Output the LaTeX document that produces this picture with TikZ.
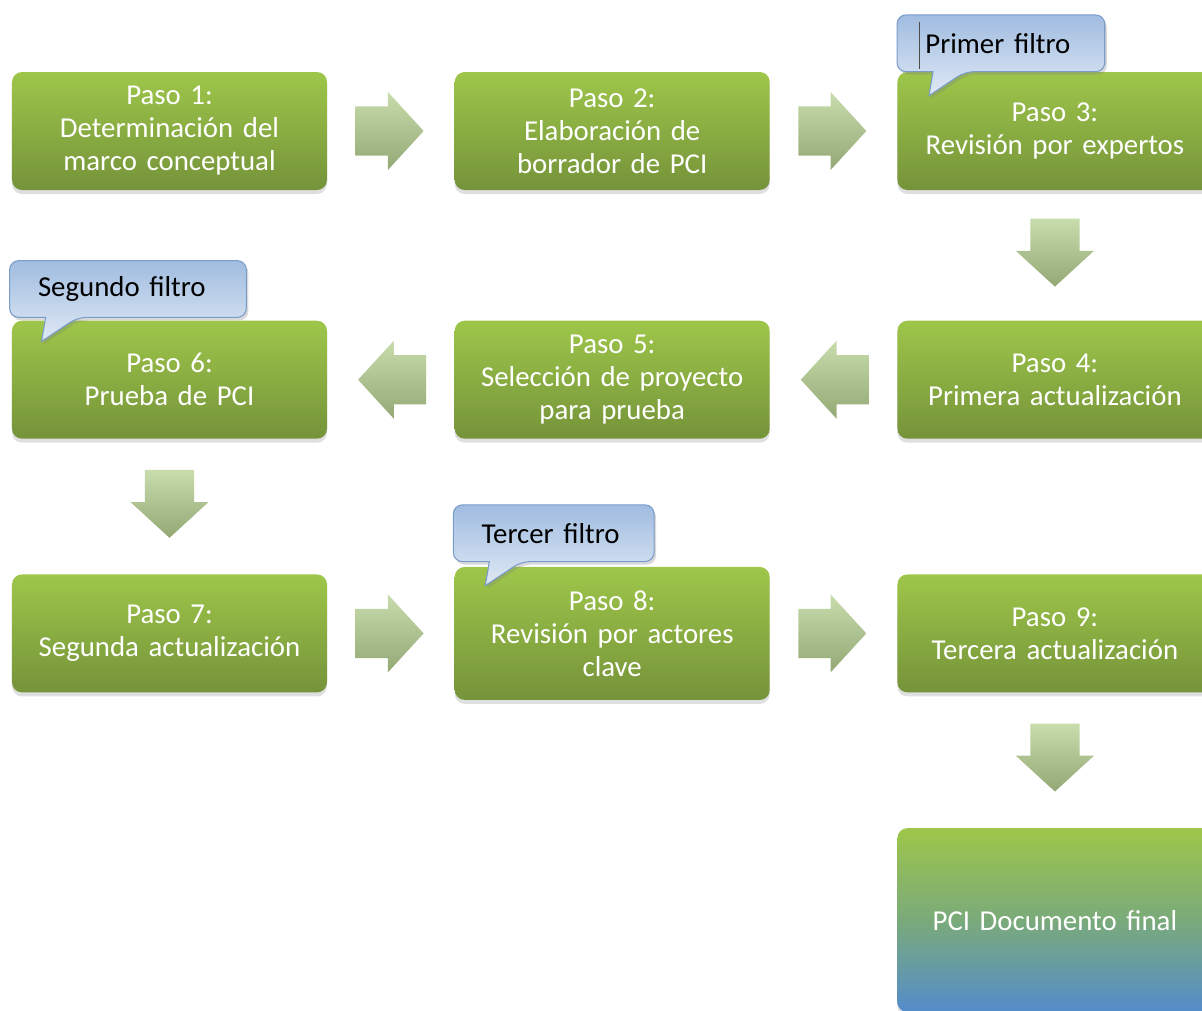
\documentclass[tikz,border=0pt]{standalone}
\usepackage{fontspec}
\setmainfont{Carlito}
\usetikzlibrary{shapes.arrows, positioning, shadows, calc}

\definecolor{verdearriba}{RGB}{158,198,74}
\definecolor{verdeabajo}{RGB}{117,147,58}
\definecolor{flechaarriba}{RGB}{200,220,172}
\definecolor{flechaabajo}{RGB}{148,168,118}
\definecolor{globoborde}{RGB}{122,156,202}
\definecolor{globoarriba}{RGB}{160,188,224}
\definecolor{globoabajo}{RGB}{224,233,245}
\definecolor{mediofinal}{RGB}{122,170,122}
\definecolor{azulfinal}{RGB}{84,140,204}

\pgfdeclarelayer{globo}
\pgfdeclarelayer{frente}
\pgfsetlayers{main,globo,frente}

\tikzset{
  paso/.style={rectangle, rounded corners=0.2cm, minimum width=6.3cm, minimum height=2.36cm,
    text width=5.6cm, align=center, text=white, top color=verdearriba, bottom color=verdeabajo,
    drop shadow={shadow xshift=0cm, shadow yshift=-0.08cm, opacity=0.25},
    font=\fontsize{16.4}{18.8}\selectfont},
  flecha/.style={single arrow, minimum width=1.55cm, minimum height=1.36cm,
    single arrow head extend=0.29cm, single arrow tip angle=95,
    top color=flechaarriba, bottom color=flechaabajo},
  flechader/.style={flecha, inner xsep=0pt, inner ysep=0.485cm, xshift=-0.25cm},
  flechaizq/.style={flecha, inner xsep=0pt, inner ysep=0.485cm, shape border rotate=180, xshift=0.25cm},
  flechaabj/.style={flecha, inner xsep=0.485cm, inner ysep=0pt, shape border rotate=270, yshift=0.28cm},
  filtro/.style={rectangle, minimum height=1.12cm, inner xsep=0.56cm, inner ysep=0pt,
    align=left, text=black, font=\fontsize{16.4}{18.8}\selectfont},
  globolinea/.style={draw=globoborde, line width=0.6pt, top color=globoarriba, bottom color=globoabajo,
    drop shadow={shadow xshift=0.04cm, shadow yshift=-0.06cm, opacity=0.3}}
}

% globo con cola hacia abajo
\newcommand{\globo}[1]{%
  \draw[globolinea, rounded corners=0.18cm]
    ([xshift=0.72cm]#1.south west) -- (#1.south west) -- (#1.north west)
    -- (#1.north east) -- (#1.south east) -- ([xshift=1.36cm]#1.south west)
    [sharp corners] -- ([xshift=0.64cm,yshift=-0.48cm]#1.south west) -- cycle;}

\begin{document}
\begin{tikzpicture}
\useasboundingbox (0,0) rectangle (24.04,-20.2);
\clip (0,0) rectangle (24.04,-20.2);

% pasos
\node (p1) [paso] at (3.39,-2.62) {Paso 1:\\Determinación del\\marco conceptual};
\node (p2) [paso, right=2.54cm of p1] {Paso 2:\\Elaboración de\\borrador de PCI};
\node (p3) [paso, right=2.54cm of p2] {Paso 3:\\Revisión por expertos};
\node (p4) [paso, below=2.6cm of p3] {Paso 4:\\Primera actualización};
\node (p5) [paso, left=2.54cm of p4] {Paso 5:\\Selección de proyecto\\para prueba};
\node (p6) [paso, left=2.54cm of p5] {Paso 6:\\Prueba de PCI};
\node (p7) [paso, below=2.7cm of p6] {Paso 7:\\Segunda actualización};
\node (p8) [paso, right=2.54cm of p7, minimum height=2.66cm] {Paso 8:\\Revisión por actores\\clave};
\node (p9) [paso, right=2.54cm of p8] {Paso 9:\\Tercera actualización};
\node (fin) [paso, below=2.7cm of p9, minimum height=3.68cm, bottom color=azulfinal, middle color=mediofinal] {PCI Documento final};

% flechas
\node (f12) [flechader] at ($(p1.east)!0.5!(p2.west)$) {};
\node (f23) [flechader] at ($(p2.east)!0.5!(p3.west)$) {};
\node (f34) [flechaabj] at ($(p3.south)!0.5!(p4.north)$) {};
\node (f45) [flechaizq] at ($(p4.west)!0.5!(p5.east)$) {};
\node (f56) [flechaizq] at ($(p5.west)!0.5!(p6.east)$) {};
\node (f67) [flechaabj] at ($(p6.south)!0.5!(p7.north)$) {};
\node (f78) [flechader] at ($(p7.east)!0.5!(p8.west)$) {};
\node (f89) [flechader] at ($(p8.east)!0.5!(p9.west)$) {};
\node (f9f) [flechaabj] at ($(p9.south)!0.5!(fin.north)$) {};

% filtros
\begin{pgfonlayer}{frente}
\node (c3) [filtro, text width=3.02cm, above right=0cm and 0cm of p3.north west] {Primer filtro};
\node (c6) [filtro, text width=3.6cm, above right=0.06cm and -0.04cm of p6.north west] {Segundo filtro};
\node (c8) [filtro, text width=2.88cm, above right=0.1cm and -0.02cm of p8.north west] {Tercer filtro};
\end{pgfonlayer}
\begin{pgfonlayer}{globo}
\globo{c3}
\globo{c6}
\globo{c8}
\draw[black!70, line width=0.5pt] ([xshift=0.44cm,yshift=-0.14cm]c3.north west) -- ([xshift=0.44cm,yshift=0.06cm]c3.south west);
\end{pgfonlayer}
\end{tikzpicture}
\end{document}
